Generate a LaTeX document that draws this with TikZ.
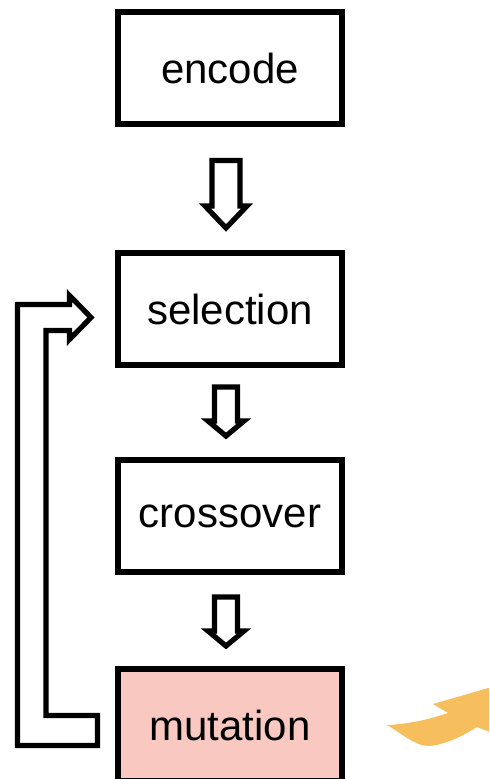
\documentclass[tikz,border=0pt]{standalone}
\usepackage{fontspec}
\setmainfont{Liberation Sans}
\usepackage{tikz}
\usetikzlibrary{arrows.meta, positioning, calc}

\definecolor{mutpink}{HTML}{F8C8C1}
\definecolor{fluxorange}{HTML}{F6BE5C}

\begin{document}
\begin{tikzpicture}[
    x=0.5pt, y=-0.5pt,
    stage/.style={draw, line width=3pt, minimum width=112pt, minimum height=56pt,
                  inner sep=0pt, font=\fontsize{21}{25}\selectfont},
    hollow/.style={draw, line width=2.6pt, fill=white},
    % hollow block arrow: shaft half / head half / head length / top gap / tip gap
    flow/.style n args={5}{to path={
        let \p1=(\tikztostart.south), \p2=(\tikztotarget.north) in
        (\x1-2pt-#1,\y1-#4) -- (\x1-2pt+#1,\y1-#4) -- (\x1-2pt+#1,\y2+#5+#3)
        -- (\x1-2pt+#2,\y2+#5+#3) -- (\x1-2pt,\y2+#5) -- (\x1-2pt-#2,\y2+#5+#3)
        -- (\x1-2pt-#1,\y2+#5+#3) -- cycle}}
  ]
    \useasboundingbox (0,0) rectangle (489,779);
    \clip (0,0) rectangle (489,779);

    % stages
    \node[stage] (encode) at (230,68) {encode};
    \node[stage, below=61.5pt of encode] (selection) {selection};
    \node[stage, below=44.5pt of selection] (crossover) {crossover};
    \node[stage, fill=mutpink, below=45.5pt of crossover] (mutation) {mutation};

    % arrows between stages
    \draw[hollow] (encode) to[flow={7pt}{10.5pt}{11pt}{16.75pt}{11pt}] (selection);
    \draw[hollow] (selection) to[flow={5.75pt}{9pt}{7.5pt}{9.5pt}{10.5pt}] (crossover);
    \draw[hollow] (crossover) to[flow={5.75pt}{9pt}{7.5pt}{11pt}{10pt}] (mutation);

    % loop back from mutation to selection
    \coordinate (tip) at ($(selection.west)+(-24,8.5)$);
    \coordinate (tail) at ($(mutation.west)+(-17.5,5.5)$);
    \draw[hollow] ($(tail)+(0,-15)$) -- ($(tail)+(-51.5,-15)$)
      -- ($(tip)+(-45,13)$) -- ($(tip)+(-21.5,13)$) -- ($(tip)+(-21.5,22)$)
      -- (tip) -- ($(tip)+(-21.5,-22)$) -- ($(tip)+(-21.5,-13)$)
      -- ($(tip)+(-73.5,-13)$) -- ($(tail)+(-80,15)$) -- ($(tail)+(0,15)$) -- cycle;

    % curved arrow at the right edge
    \fill[fluxorange] (387,725) .. controls (398,731) and (415,746) .. (428,746)
      .. controls (440,746) and (460,738) .. (477,727) -- (505,738) -- (540,673)
      -- (433,704) -- (448,713) .. controls (430,719) and (410,724) .. (387,725) -- cycle;
\end{tikzpicture}
\end{document}
